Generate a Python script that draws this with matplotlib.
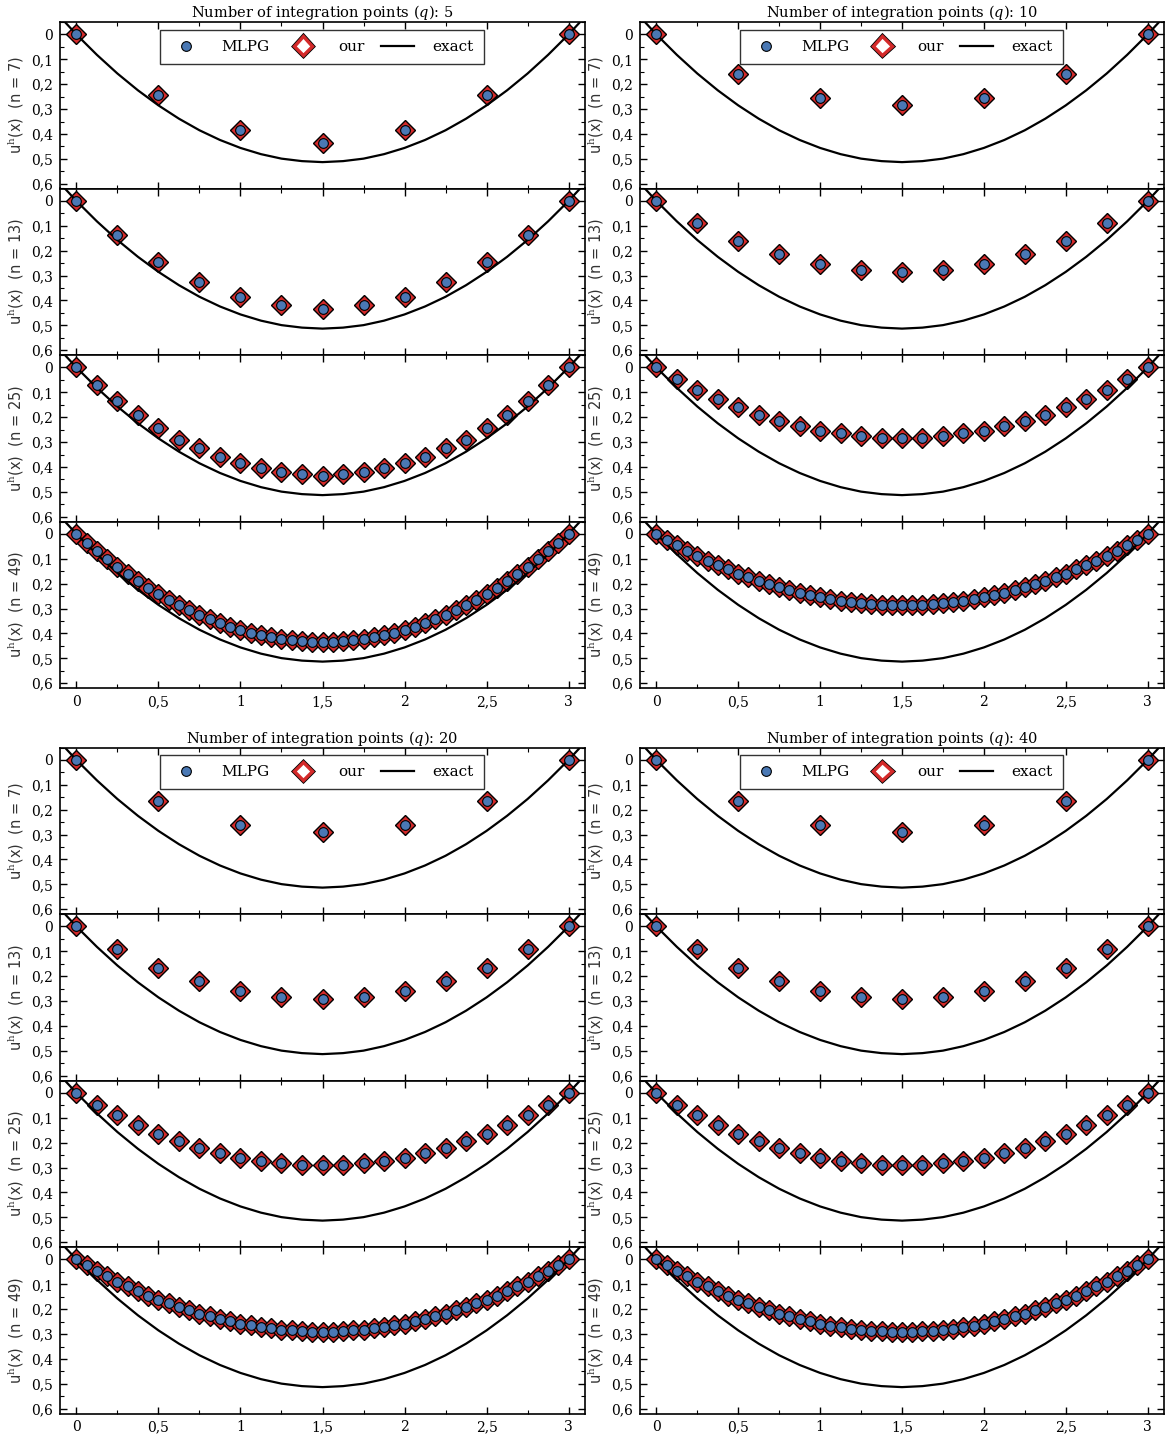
import numpy as np
import matplotlib
matplotlib.use("Agg")
import matplotlib.pyplot as plt
import matplotlib.patheffects as pe
from matplotlib.lines import Line2D
from matplotlib.ticker import MultipleLocator, FuncFormatter

plt.rcParams['font.family'] = ['DejaVu Serif']
plt.rcParams['mathtext.fontset'] = 'custom'
plt.rcParams['mathtext.rm'] = 'DejaVu Serif'
plt.rcParams['mathtext.it'] = 'DejaVu Serif:italic'

# number of integration points per block, number of nodes per panel
q_values = [5, 10, 20, 40]
n_values = [7, 13, 25, 49]

# approximate solution u^h at the nodes (MLPG and "our" coincide)
q5_n7 = [0, .245, .385, .435, .385, .245, 0]
q5_n13 = [0, .135, .245, .325, .385, .42, .435, .42, .385, .325, .245, .135, 0]
q5_n25 = [0, .07, .135, .19, .245, .29, .325, .36, .385, .405, .42, .43, .435,
          .43, .42, .405, .385, .36, .325, .29, .245, .19, .135, .07, 0]
q5_n49 = [0, .036, .069, .102, .133, .162, .190, .216, .241, .265, .286, .307, .326,
          .343, .359, .373, .386, .397, .407, .415, .422, .427, .431, .433, .434,
          .433, .431, .427, .422, .415, .407, .397, .386, .373, .359, .343, .326,
          .307, .286, .265, .241, .216, .190, .162, .133, .102, .069, .036, 0]

q10_n7 = [0, .16, .255, .285, .255, .16, 0]
q10_n13 = [0, .09, .16, .215, .255, .277, .285, .277, .255, .215, .16, .09, 0]
q10_n25 = [0, .045, .09, .125, .16, .19, .215, .235, .255, .265, .277, .283, .285,
           .283, .277, .265, .255, .235, .215, .19, .16, .125, .09, .045, 0]
q10_n49 = [0, .023, .046, .067, .087, .107, .125, .142, .159, .174, .188, .202, .214,
           .226, .236, .245, .254, .261, .268, .273, .278, .281, .284, .285, .286,
           .285, .284, .281, .278, .273, .268, .261, .254, .245, .236, .226, .214,
           .202, .188, .174, .159, .142, .125, .107, .087, .067, .046, .023, 0]

q20_n7 = [0, .165, .26, .29, .26, .165, 0]
q20_n13 = [0, .09, .165, .22, .26, .283, .29, .283, .26, .22, .165, .09, 0]
q20_n25 = [0, .05, .09, .13, .165, .195, .22, .24, .26, .272, .283, .288, .29,
           .288, .283, .272, .26, .24, .22, .195, .165, .13, .09, .05, 0]
q20_n49 = [0, .024, .046, .068, .089, .108, .127, .145, .161, .177, .191, .205, .218,
           .229, .240, .249, .258, .265, .272, .277, .282, .285, .288, .290, .290,
           .290, .288, .285, .282, .277, .272, .265, .258, .249, .240, .229, .218,
           .205, .191, .177, .161, .145, .127, .108, .089, .068, .046, .024, 0]

q40_n7 = [0, .165, .26, .29, .26, .165, 0]
q40_n13 = [0, .09, .165, .22, .26, .283, .291, .283, .26, .22, .165, .09, 0]
q40_n25 = [0, .05, .09, .13, .165, .195, .22, .24, .26, .273, .283, .289, .291,
           .289, .283, .273, .26, .24, .22, .195, .165, .13, .09, .05, 0]
q40_n49 = [0, .024, .046, .068, .089, .108, .127, .145, .161, .177, .191, .205, .218,
           .229, .240, .249, .258, .266, .272, .278, .283, .286, .289, .290, .291,
           .290, .289, .286, .283, .278, .272, .266, .258, .249, .240, .229, .218,
           .205, .191, .177, .161, .145, .127, .108, .089, .068, .046, .024, 0]

# exact solution sampled every 0.125
x_exact = np.linspace(-0.125, 3.125, 27)
u_exact = [-.089, 0, .082, .157, .2245, .285, .3385, .385, .424, .456, .481, .499, .509, .513,
           .509, .499, .481, .456, .424, .385, .3385, .285, .2245, .157, .082, 0, -.089]

series = {
    5: [q5_n7, q5_n13, q5_n25, q5_n49],
    10: [q10_n7, q10_n13, q10_n25, q10_n49],
    20: [q20_n7, q20_n13, q20_n25, q20_n49],
    40: [q40_n7, q40_n13, q40_n25, q40_n49],
}

BLUE = '#4a78b4'
RED = '#d42a2a'
W, H = 1167, 1439
PANEL_H = 166.5

comma = FuncFormatter(lambda v, pos: '{:g}'.format(round(v, 3)).replace('.', ','))


def draw_block(fig, x0, x1, top, q):
    axes = []
    for i, (n, vals) in enumerate(zip(n_values, series[q])):
        bottom = top + (i + 1) * PANEL_H
        ax = fig.add_axes([x0 / W, 1 - bottom / H, (x1 - x0) / W, PANEL_H / H])
        x = np.linspace(0, 3, n)
        ax.plot(x, vals, ls='none', marker='D', ms=10.5, mfc=RED, mec='black', mew=1.0, zorder=3)
        ax.plot(x_exact, u_exact, color='black', lw=1.6, zorder=4)
        ax.plot(x, vals, ls='none', marker='o', ms=7, mfc=BLUE, mec='black', mew=0.8, zorder=5)

        ax.set_xlim(-0.1, 3.1)
        ax.set_ylim(0.619, -0.05)
        ax.xaxis.set_major_locator(MultipleLocator(0.5))
        ax.xaxis.set_minor_locator(MultipleLocator(0.25))
        ax.yaxis.set_major_locator(MultipleLocator(0.1))
        ax.yaxis.set_minor_locator(MultipleLocator(0.05))
        ax.xaxis.set_major_formatter(comma)
        ax.yaxis.set_major_formatter(comma)
        ax.tick_params(which='both', direction='in', top=True, right=True, labelsize=10)
        ax.tick_params(which='major', length=5, width=1, pad=5)
        ax.tick_params(which='minor', length=3, width=0.8)
        if i < 3:
            ax.tick_params(labelbottom=False)
        for s in ax.spines.values():
            s.set_linewidth(1.2)
        ax.set_ylabel('u$^{\\mathrm{h}}$(x)  (n = %d)' % n, fontsize=10.5,
                      family='DejaVu Sans', color='#333333')
        ax.yaxis.set_label_coords(-0.064, 0.5)
        axes.append(ax)

    axes[0].set_title('Number of integration points ($\\mathit{q}$): %d' % q, fontsize=10.5, pad=3)

    stroke = [pe.Stroke(linewidth=3.6, foreground='black'), pe.Normal()]
    handles = [
        Line2D([], [], ls='none', marker='o', ms=7, mfc=BLUE, mec='black', mew=0.8),
        Line2D([], [], ls='none', marker='D', ms=9.5, mfc='white', mec=RED, mew=2.4,
               path_effects=stroke),
        Line2D([], [], color='black', lw=1.6),
    ]
    leg = axes[0].legend(handles, ['MLPG', 'our', 'exact'], ncol=3, loc='upper left',
                         bbox_to_anchor=(0.19, 0.752, 0.617, 0.2), mode='expand',
                         fontsize=11, frameon=True, fancybox=False, framealpha=1,
                         edgecolor='#333333', borderpad=0.65, handlelength=2.2,
                         handletextpad=1.2, borderaxespad=0)
    leg.get_frame().set_linewidth(1.0)
    leg.set_zorder(10)


fig = plt.figure(figsize=(W / 100, H / 100), dpi=100)
draw_block(fig, 60, 585, 22, 5)
draw_block(fig, 640, 1164, 22, 10)
draw_block(fig, 60, 585, 747.5, 20)
draw_block(fig, 640, 1164, 747.5, 40)

fig.savefig('out.png', dpi=100, facecolor='white')
